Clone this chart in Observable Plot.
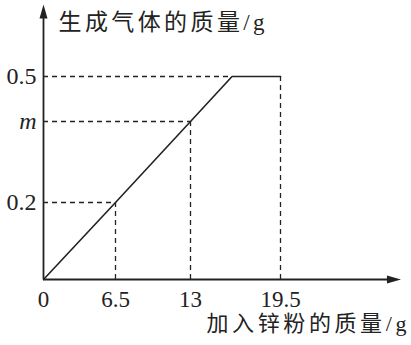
<!DOCTYPE html>
<html>
<head>
<meta charset="utf-8">
<script src="https://cdn.jsdelivr.net/npm/d3@7"></script>
<script src="https://cdn.jsdelivr.net/npm/@observablehq/plot@0.6"></script>
<style>
  html, body { margin: 0; padding: 0; background: #fff; }
</style>
</head>
<body>
<div id="chart"></div>
<script>
// ---- data ----
const xTicks = [0, 6.5, 13, 19.5];
const xTickLabels = ["0", "6.5", "13", "19.5"];
const yTicks = [0.2, 0.4, 0.5];
const yTickLabels = ["0.2", "m", "0.5"];
const zinc = [0, 6.5, 13, 16, 19.5];      // 加入锌粉的质量/g
const gas = [0, 0.2, 0.4, 0.5, 0.5];      // 生成气体的质量/g
const guideX = [6.5, 13, 16];             // horizontal dashed guides end
const guideY = [0.2, 0.4, 0.5];
const dropX = [6.5, 13, 19.5];            // vertical dashed guides
const dropY = [0.2, 0.4, 0.5];
const xAxisEnd = 28.2;
const yAxisEnd = 0.66;
const xTitle = "加入锌粉的质量/g";
const yTitle = "生成气体的质量/g";

const linePts = zinc.map((x, i) => ({x, y: gas[i]}));
const hGuides = guideX.map((x, i) => ({x, y: guideY[i]}));
const vGuides = dropX.map((x, i) => ({x, y: dropY[i]}));
const yTickData = yTicks.map((y, i) => ({y, label: yTickLabels[i]}));
const xTickData = xTicks.map((x, i) => ({x, label: xTickLabels[i]}));

const ink = "#222";
const serif = "'Liberation Serif', 'Noto Sans CJK SC', serif";
const arrowHead = (w, L) => ({
  draw(ctx) { ctx.moveTo(0, 0); ctx.lineTo(-w / 2, L); ctx.lineTo(w / 2, L); ctx.closePath(); }
});

// the schematic drawing is not to scale: piecewise-linear scale transforms
const xWarp = d3.scaleLinear().domain([0, 6.5, 13, 19.5]).range([43, 115, 190, 280]);
const yWarp = d3.scaleLinear().domain([0, 0.2, 0.4, 0.5]).range([279, 202, 121, 76]);

const chart = Plot.plot({
  width: 411,
  height: 345,
  margin: 0,
  style: {background: "#fff", color: ink},
  x: {transform: xWarp, domain: [0, 411], range: [0, 411], axis: null},
  y: {transform: yWarp, domain: [0, 345], range: [0, 345], axis: null},
  marks: [
    // dashed guides
    Plot.ruleY(hGuides, {y: "y", x1: 0, x2: "x", stroke: ink, strokeWidth: 1.3, strokeDasharray: "5,4"}),
    Plot.ruleX(vGuides, {x: "x", y1: 0, y2: "y", stroke: ink, strokeWidth: 1.3, strokeDasharray: "5,4"}),
    // axes
    Plot.ruleX([0], {y1: 0, y2: yAxisEnd - 0.02, stroke: ink, strokeWidth: 1.8}),
    Plot.ruleY([0], {x1: 0, x2: xAxisEnd - 0.5, stroke: ink, strokeWidth: 1.8}),
    Plot.dot([{x: 0, y: yAxisEnd}], {x: "x", y: "y", symbol: arrowHead(8, 14), fill: ink, stroke: "none"}),
    Plot.dot([{x: xAxisEnd, y: 0}], {x: "x", y: "y", symbol: arrowHead(8, 14), rotate: 90, fill: ink, stroke: "none"}),
    // data line
    Plot.line(linePts, {x: "x", y: "y", stroke: ink, strokeWidth: 1.6}),
    // tick labels
    Plot.text(yTickData.filter(d => d.label !== "m"), {x: 0, y: "y", text: "label", textAnchor: "end", dx: -7, fontSize: 24, fontFamily: serif, fill: ink, lineAnchor: "middle"}),
    Plot.text(yTickData.filter(d => d.label === "m"), {x: 0, y: "y", text: "label", textAnchor: "end", dx: -7, fontSize: 24, fontStyle: "italic", fontFamily: serif, fill: ink, lineAnchor: "middle"}),
    Plot.text(xTickData, {x: "x", y: 0, text: "label", dy: 20, fontSize: 23, fontFamily: serif, fill: ink, lineAnchor: "middle"}),
    // axis titles
    Plot.text([yTitle], {frameAnchor: "top-left", dx: 58, dy: 22, textAnchor: "start", lineAnchor: "middle", fontSize: 23, fontFamily: serif, fill: ink}),
    Plot.text([xTitle], {frameAnchor: "top-left", dx: 206, dy: 323, textAnchor: "start", lineAnchor: "middle", fontSize: 22, fontFamily: serif, fill: ink})
  ]
});
d3.select(chart).selectAll("text")
  .filter(function () { return this.textContent === yTitle; })
  .attr("letter-spacing", "3.4px");
d3.select(chart).selectAll("text")
  .filter(function () { return this.textContent === xTitle; })
  .attr("letter-spacing", "3.6px");
document.getElementById("chart").appendChild(chart);
</script>
</body>
</html>
